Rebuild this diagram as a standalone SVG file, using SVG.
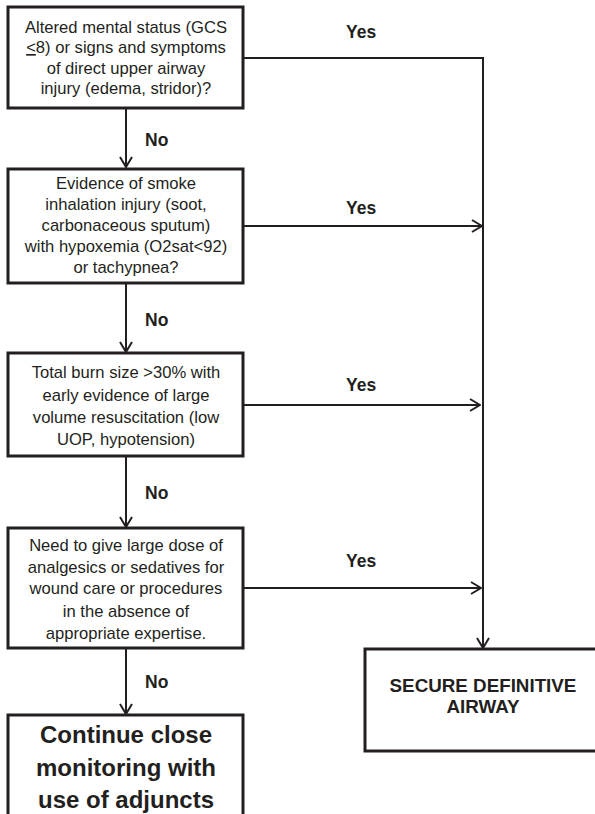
<svg xmlns="http://www.w3.org/2000/svg" width="595" height="814" viewBox="0 0 595 814">
<style>
.box{fill:#fff;stroke:#231f20;stroke-width:3}
.t{font-family:"Liberation Sans",Arial,sans-serif;font-size:16.6px;fill:#231f20;text-anchor:middle}
.lbl{font-family:"Liberation Sans",Arial,sans-serif;font-size:17.5px;font-weight:bold;fill:#231f20}
.big{font-family:"Liberation Sans",Arial,sans-serif;font-size:24px;font-weight:bold;fill:#231f20;text-anchor:middle}
.mid{font-family:"Liberation Sans",Arial,sans-serif;font-size:18.8px;font-weight:bold;fill:#231f20;text-anchor:middle}
.ln{fill:none;stroke:#231f20;stroke-width:2}
</style>
<defs>
<marker id="ah" viewBox="0 0 12 14" refX="11" refY="7" markerWidth="12" markerHeight="14" markerUnits="userSpaceOnUse" orient="auto">
<path d="M1,1 L11,7 L1,13" fill="none" stroke="#231f20" stroke-width="2"/>
</marker>
</defs>
<rect width="595" height="814" fill="#fff"/>
<g id="connectors">
<path class="ln" d="M126,108 V167" marker-end="url(#ah)"/>
<path class="ln" d="M126,283 V352" marker-end="url(#ah)"/>
<path class="ln" d="M126,456 V527" marker-end="url(#ah)"/>
<path class="ln" d="M126,648 V714" marker-end="url(#ah)"/>
<path class="ln" d="M243,58 H483 V648" marker-end="url(#ah)"/>
<path class="ln" d="M243,226 H482" marker-end="url(#ah)"/>
<path class="ln" d="M243,405 H480" marker-end="url(#ah)"/>
<path class="ln" d="M243,588 H481" marker-end="url(#ah)"/>
<text class="lbl" x="145" y="146">No</text>
<text class="lbl" x="145" y="326">No</text>
<text class="lbl" x="145" y="499">No</text>
<text class="lbl" x="145" y="688">No</text>
<text class="lbl" x="346" y="38">Yes</text>
<text class="lbl" x="346" y="214">Yes</text>
<text class="lbl" x="346" y="391">Yes</text>
<text class="lbl" x="346" y="567">Yes</text>
</g>
<g id="q1">
<rect class="box" x="8" y="7" width="235" height="101"/>
<text class="t" x="126" y="33">Altered mental status (GCS</text>
<text class="t" x="126" y="53"><tspan text-decoration="underline">&lt;</tspan>8) or signs and symptoms</text>
<text class="t" x="126" y="74">of direct upper airway</text>
<text class="t" x="126" y="94">injury (edema, stridor)?</text>
</g>
<g id="q2">
<rect class="box" x="8" y="169" width="235" height="114"/>
<text class="t" x="126" y="189">Evidence of smoke</text>
<text class="t" x="126" y="210">inhalation injury (soot,</text>
<text class="t" x="126" y="231">carbonaceous sputum)</text>
<text class="t" x="126" y="252">with hypoxemia (O2sat&lt;92)</text>
<text class="t" x="126" y="273">or tachypnea?</text>
</g>
<g id="q3">
<rect class="box" x="8" y="353" width="235" height="103"/>
<text class="t" x="126" y="378">Total burn size &gt;30% with</text>
<text class="t" x="126" y="401">early evidence of large</text>
<text class="t" x="126" y="423">volume resuscitation (low</text>
<text class="t" x="126" y="445">UOP, hypotension)</text>
</g>
<g id="q4">
<rect class="box" x="8" y="528" width="235" height="120"/>
<text class="t" x="126" y="551">Need to give large dose of</text>
<text class="t" x="126" y="573">analgesics or sedatives for</text>
<text class="t" x="126" y="594">wound care or procedures</text>
<text class="t" x="126" y="617">in the absence of</text>
<text class="t" x="126" y="639">appropriate expertise.</text>
</g>
<g id="continue">
<rect class="box" x="8" y="715" width="235" height="110"/>
<text class="big" x="126" y="743">Continue close</text>
<text class="big" x="126" y="776">monitoring with</text>
<text class="big" x="126" y="808">use of adjuncts</text>
</g>
<g id="secure">
<rect class="box" x="365" y="649" width="240" height="102"/>
<text class="mid" x="483" y="692">SECURE DEFINITIVE</text>
<text class="mid" x="483" y="713">AIRWAY</text>
</g>
</svg>
